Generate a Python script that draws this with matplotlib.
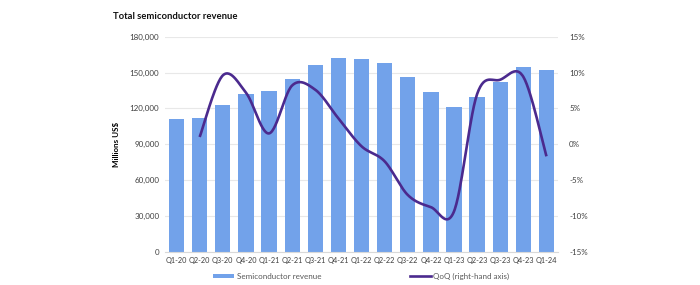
import numpy as np
import matplotlib
matplotlib.use("Agg")
import matplotlib.pyplot as plt
from matplotlib.ticker import FuncFormatter
from matplotlib.lines import Line2D
from matplotlib.patches import Patch

quarters = ["Q1-20", "Q2-20", "Q3-20", "Q4-20", "Q1-21", "Q2-21", "Q3-21", "Q4-21",
            "Q1-22", "Q2-22", "Q3-22", "Q4-22", "Q1-23", "Q2-23", "Q3-23", "Q4-23", "Q1-24"]
revenue = [111100, 112200, 122800, 132300, 134200, 144600, 156000, 162100,
           161600, 158000, 146500, 133400, 120800, 129500, 141700, 154600, 152100]
qoq = [None, 1.0, 9.6, 7.2, 1.5, 8.2, 7.6, 3.6,
       -0.3, -2.4, -7.1, -8.8, -9.4, 7.0, 9.0, 9.4, -1.7]

plt.rcParams['font.family'] = ['Lato', 'DejaVu Sans']

fig = plt.figure(figsize=(7, 2.85), dpi=100)
ax = fig.add_axes([0.2357, 0.1175, 0.5615, 0.7535])
x = np.arange(len(quarters))
bar_color = "#72A2EA"
ax.bar(x, revenue, width=0.66, color=bar_color, zorder=2)
ax.set_xlim(-0.5, len(quarters) - 0.5)
ax.set_ylim(0, 180000)
ax.set_yticks(np.arange(0, 180001, 30000))
ax.yaxis.set_major_formatter(FuncFormatter(lambda v, p: f"{int(v):,}"))
ax.set_xticks(x)
ax.set_xticklabels(quarters)
ax.grid(axis='y', color="#E8E8E8", linewidth=0.8, zorder=0)
ax.set_axisbelow(True)
for s in ['top', 'right', 'left']:
    ax.spines[s].set_visible(False)
ax.spines['bottom'].set_color("#D9D9D9")
ax.tick_params(axis='y', length=0, labelsize=5.8, labelcolor="#404040", pad=4)
ax.tick_params(axis='x', length=0, labelsize=5.3, labelcolor="#404040", pad=4)
ax.set_ylabel("Millions US$", fontsize=5.8, fontweight='bold', labelpad=7)

ax2 = ax.twinx()
ax2.set_ylim(-15, 15)
ax2.set_yticks(np.arange(-15, 16, 5))
ax2.yaxis.set_major_formatter(FuncFormatter(lambda v, p: f"{int(v)}%"))
for s in ax2.spines.values():
    s.set_visible(False)
ax2.tick_params(axis='y', length=0, labelsize=5.8, labelcolor="#404040", pad=8)

# Excel-style smoothed line (Bezier through the data points)
px = np.array([i for i, v in enumerate(qoq) if v is not None], dtype=float)
py = np.array([v for v in qoq if v is not None], dtype=float)
sx, sy = [], []
n = len(px)
for i in range(n - 1):
    p0 = (px[i - 1], py[i - 1]) if i > 0 else (px[i], py[i])
    p1 = (px[i], py[i])
    p2 = (px[i + 1], py[i + 1])
    p3 = (px[i + 2], py[i + 2]) if i + 2 < n else (px[i + 1], py[i + 1])
    t = np.linspace(0, 1, 30)
    c1 = (p1[0] + (p2[0] - p0[0]) / 6, p1[1] + (p2[1] - p0[1]) / 6)
    c2 = (p2[0] - (p3[0] - p1[0]) / 6, p2[1] - (p3[1] - p1[1]) / 6)
    bx = (1 - t) ** 3 * p1[0] + 3 * (1 - t) ** 2 * t * c1[0] + 3 * (1 - t) * t ** 2 * c2[0] + t ** 3 * p2[0]
    by = (1 - t) ** 3 * p1[1] + 3 * (1 - t) ** 2 * t * c1[1] + 3 * (1 - t) * t ** 2 * c2[1] + t ** 3 * p2[1]
    sx.extend(bx)
    sy.extend(by)
line_color = "#4B2A8E"
ax2.plot(sx, sy, color=line_color, linewidth=1.9, solid_capstyle='butt', zorder=3)

fig.text(0.162, 0.935, "Total semiconductor revenue", fontsize=6.8, fontweight='bold', color="#111111")

handles = [Patch(facecolor=bar_color, edgecolor='none'),
           Line2D([0], [0], color=line_color, linewidth=1.9)]
fig.legend(handles, ["Semiconductor revenue", "QoQ (right-hand axis)"],
           loc='center', bbox_to_anchor=(0.516, 0.03), ncol=2, frameon=False,
           fontsize=5.8, labelcolor="#595959", columnspacing=11.0, handlelength=2.6,
           handleheight=0.5, handletextpad=0.3)

fig.savefig("out.png", dpi=100, facecolor='white')
